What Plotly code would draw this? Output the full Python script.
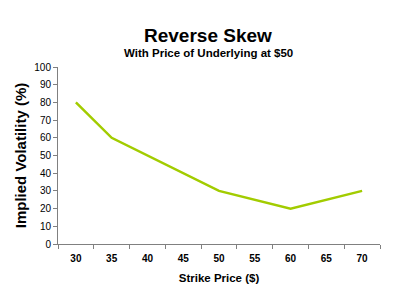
import plotly.graph_objects as go

strike_labels = ["30", "35", "40", "45", "50", "55", "60", "65", "70"]
strikes = ["30", "35", "50", "60", "70"]
implied_vol = [80, 60, 30, 20, 30]
y_ticks = [0, 10, 20, 30, 40, 50, 60, 70, 80, 90, 100]

FONT = "Liberation Sans, Arial, sans-serif"

fig = go.Figure()
fig.add_trace(go.Scatter(
    x=strikes, y=implied_vol, mode="lines",
    line=dict(color="#A2CC00", width=2.5),
    hoverinfo="skip", showlegend=False,
))

ph = 300 - 67 - 56
pw = 400 - 58 - 20
fig.update_layout(
    width=400, height=300,
    margin=dict(l=58, r=20, t=67, b=56),
    paper_bgcolor="white", plot_bgcolor="white",
    font=dict(family=FONT, color="black"),
    annotations=[
        dict(text="<b>Reverse Skew</b>", x=(208 - 58) / pw, y=1 + (67 - 23) / ph,
             xref="paper", yref="paper", showarrow=False, font=dict(size=19, family=FONT)),
        dict(text="<b>With Price of Underlying at $50</b>", x=(208 - 58) / pw,
             y=1 + (67 - 45) / ph, xref="paper", yref="paper", showarrow=False,
             font=dict(size=11.5, family=FONT)),
    ],
)

fig.update_xaxes(
    type="category", categoryorder="array", categoryarray=strike_labels,
    tickson="boundaries", ticks="outside", ticklen=4, tickcolor="#808080",
    showline=True, linecolor="#808080", linewidth=1, showgrid=False,
    tickfont=dict(size=10, family=FONT), range=[-0.5, 8.5], ticklabelstandoff=5,
    tickprefix="<b>", ticksuffix="</b>",
    title=dict(text="<b>Strike Price ($)</b>", font=dict(size=11.5, family=FONT), standoff=10),
)
fig.update_yaxes(
    range=[0, 100], tickvals=y_ticks, ticks="outside", ticklen=4, tickcolor="#808080",
    showline=True, linecolor="#808080", linewidth=1, showgrid=False, zeroline=False,
    tickfont=dict(size=10, family=FONT), tickprefix="<b>", ticksuffix="</b>",
    title=dict(text="<b>Implied Volatility (%)</b>", font=dict(size=15, family=FONT), standoff=4),
)

fig.write_html("out.html")
